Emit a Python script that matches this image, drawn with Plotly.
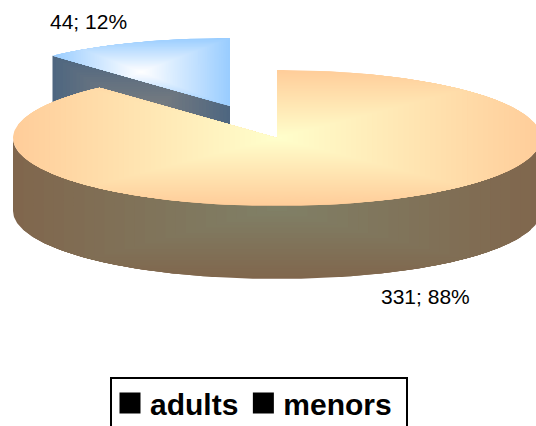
import math
import plotly.graph_objects as go

categories = ["adults", "menors"]
values = [331, 44]

W, H = 536, 426
RX, RY, DEPTH = 264, 68, 73
BIG_C = (277, 138)
SMALL_C = (230, 106)


def lerp(a, b, t):
    return tuple(a[i] + (b[i] - a[i]) * t for i in range(3))


def rgb(c):
    return "rgb(%d,%d,%d)" % tuple(round(v) for v in c)


def clip_axis(poly, axis, limit, keep_less):
    def inside(p):
        return p[axis] <= limit if keep_less else p[axis] >= limit
    out = []
    for i, cur in enumerate(poly):
        prev = poly[i - 1]
        if inside(cur) != inside(prev):
            s = (limit - prev[axis]) / (cur[axis] - prev[axis])
            out.append((prev[0] + (cur[0] - prev[0]) * s, prev[1] + (cur[1] - prev[1]) * s))
        if inside(cur):
            out.append(cur)
    return out


def clip_rect(poly, x0, x1, y0, y1):
    for axis, lim, less in ((0, x0, False), (0, x1, True), (1, y0, False), (1, y1, True)):
        if not poly:
            return poly
        poly = clip_axis(poly, axis, lim, less)
    return poly


def arc(c, a0, a1, n=240, dy=0):
    return [(c[0] + RX * math.sin(math.radians(a0 + (a1 - a0) * i / n)),
             c[1] + dy - RY * math.cos(math.radians(a0 + (a1 - a0) * i / n))) for i in range(n + 1)]


def add_face(fig, poly, centre_col, edge_col, bands):
    xs = [p[0] for p in poly]
    ys = [p[1] for p in poly]
    mx, my = (min(xs) + max(xs)) / 2, (min(ys) + max(ys)) / 2
    hx, hy = (max(xs) - min(xs)) / 2, (max(ys) - min(ys)) / 2
    for k in range(bands, 0, -1):
        t = k / bands
        part = poly if k == bands else clip_rect(poly, mx - hx * t, mx + hx * t, my - hy * t, my + hy * t)
        if len(part) < 3:
            continue
        col = rgb(lerp(centre_col, edge_col, (k - 0.5) / bands))
        fig.add_trace(go.Scatter(
            x=[p[0] for p in part] + [part[0][0]], y=[p[1] for p in part] + [part[0][1]],
            mode="lines", fill="toself", fillcolor=col, line=dict(width=0),
            hoverinfo="skip", showlegend=False))


total = sum(values)
split = 360 * values[0] / total
shares = [round(100 * v / total) for v in values]

fig = go.Figure()

# exploded small slice (behind)
p_left = arc(SMALL_C, split, 360)
back_point = p_left[0]
small_wall = [back_point, SMALL_C, (SMALL_C[0], SMALL_C[1] + DEPTH), (back_point[0], back_point[1] + DEPTH)]
add_face(fig, small_wall, (128, 128, 128), (77, 102, 128), 26)
add_face(fig, [SMALL_C] + p_left, (255, 255, 255), (153, 204, 255), 50)

# big slice
front = arc(BIG_C, 90, 270)
front_low = arc(BIG_C, 270, 90, dy=DEPTH)
add_face(fig, front + front_low, (128, 128, 102), (128, 102, 77), 26)
add_face(fig, [BIG_C] + arc(BIG_C, 0, split), (255, 255, 204), (255, 204, 153), 50)

# legend entries
for name in categories:
    fig.add_trace(go.Scatter(x=[None], y=[None], mode="markers", name=name,
                             marker=dict(symbol="square", size=16, color="black",
                                         line=dict(color="black", width=5))))

fig.update_layout(
    width=W, height=H, margin=dict(l=0, r=0, t=0, b=0, autoexpand=False),
    paper_bgcolor="white", plot_bgcolor="white",
    xaxis=dict(range=[0, W], visible=False, fixedrange=True),
    yaxis=dict(range=[H, 0], visible=False, fixedrange=True),
    showlegend=True,
    legend=dict(orientation="h", x=110 / W, xanchor="left", y=1 - 403 / H, yanchor="middle",
                font=dict(family="Liberation Sans", size=30, color="black", weight=700),
                bgcolor="rgba(0,0,0,0)", borderwidth=0, itemwidth=30, traceorder="normal"),
    shapes=[dict(type="rect", xref="x", yref="y", x0=111, x1=407, y0=378, y1=450,
                 line=dict(color="black", width=2), fillcolor="rgba(0,0,0,0)", layer="below")],
    annotations=[
        dict(x=425, y=296.5, xref="x", yref="y", showarrow=False,
             text=f"{values[0]}; {shares[0]}%", font=dict(family="Liberation Sans", size=21, color="black")),
        dict(x=88.5, y=21, xref="x", yref="y", showarrow=False,
             text=f"{values[1]}; {shares[1]}%", font=dict(family="Liberation Sans", size=21, color="black")),
    ],
)
fig.write_html("out.html", config={"displayModeBar": False},
               post_script="document.body.style.margin='0';")
